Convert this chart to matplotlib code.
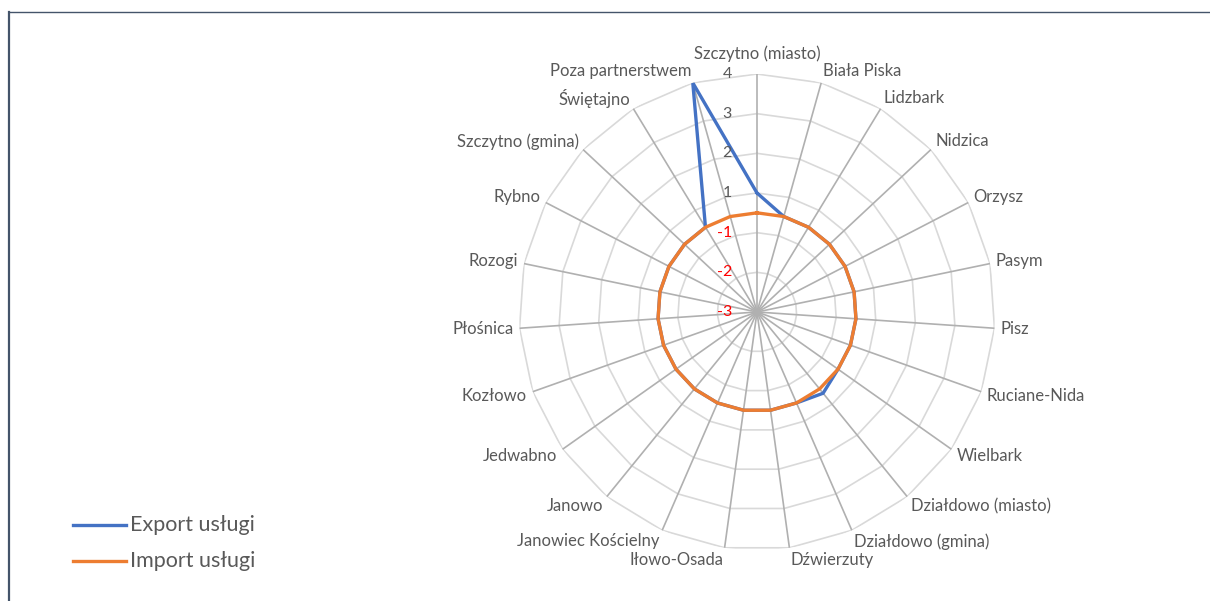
import numpy as np
import matplotlib
matplotlib.use("Agg")
import matplotlib.pyplot as plt
from matplotlib.lines import Line2D

plt.rcParams['font.family'] = ['Lato', 'DejaVu Sans']

# categories, clockwise from the top
categories = ["Szczytno (miasto)", "Biała Piska", "Lidzbark", "Nidzica", "Orzysz",
              "Pasym", "Pisz", "Ruciane-Nida", "Wielbark", "Działdowo (miasto)",
              "Działdowo (gmina)", "Dźwierzuty", "Iłowo-Osada", "Janowiec Kościelny",
              "Janowo", "Jedwabno", "Kozłowo", "Płośnica", "Rozogi", "Rybno",
              "Szczytno (gmina)", "Świętajno", "Poza partnerstwem"]

# radial tick labels, one per ring from the centre outwards
ring_labels = ["-3", "-2", "-1", "1", "2", "3", "4"]

# values in ring units (0 = centre ring, 6 = outer ring)
export_vals = [3.0, 2.5, 2.5, 2.5, 2.5, 2.5, 2.5, 2.5, 2.5, 2.64, 2.5, 2.5,
               2.5, 2.5, 2.5, 2.5, 2.5, 2.5, 2.5, 2.5, 2.5, 2.5, 6.0]
import_vals = [2.5] * 23

n = len(categories)
theta = np.arange(n) * 2 * np.pi / n
rmax = len(ring_labels) - 1

fig = plt.figure(figsize=(12.1, 6.01), dpi=100)
W, H = 1210, 601
cx, cy, R = 757, 312, 238
ax = fig.add_axes([(cx - R) / W, (H - cy - R) / H, 2 * R / W, 2 * R / H], projection='polar')
ax.set_theta_zero_location('N')
ax.set_theta_direction(-1)
ax.set_ylim(0, rmax)
ax.grid(False)
ax.spines['polar'].set_visible(False)
ax.set_xticks([])
ax.set_yticks([])
ax.patch.set_alpha(0)

# polygon rings
closed = np.append(theta, theta[0])
for r in range(1, rmax + 1):
    ax.plot(closed, [r] * (n + 1), color='#d9d9d9', lw=1.2, zorder=1)
# spokes
for t in theta:
    ax.plot([t, t], [0, rmax], color='#b0b0b0', lw=1.2, zorder=2)

ax.plot(closed, import_vals + import_vals[:1], color='#ED7D31', lw=2.4, zorder=4,
        solid_joinstyle='miter')
ax.plot(closed, export_vals + export_vals[:1], color='#4472C4', lw=2.4, zorder=3,
        solid_joinstyle='miter')

# ring labels along the top spoke
for i, lab in enumerate(ring_labels):
    col = '#FF0000' if lab.startswith('-') else '#595959'
    ax.annotate(lab, xy=(0, i), xytext=(-25, 0), textcoords='offset pixels',
                ha='right', va='center', fontsize=11.5, color=col, zorder=5)

# category labels
for t, lab in zip(theta, categories):
    s, c = np.sin(t), np.cos(t)
    if s > 0.01:
        ha = 'left'
    elif s < -0.01:
        ha = 'right'
    else:
        ha = 'center'
    va = 'center'
    if abs(s) < 0.01:
        va = 'bottom' if c > 0 else 'top'
    ax.annotate(lab, xy=(t, rmax), xytext=(6 * s, 12 * c), textcoords='offset pixels',
                ha=ha, va=va, fontsize=12, color='#595959', annotation_clip=False)

# legend
fig.add_artist(Line2D([73 / W, 126 / W], [1 - 525 / H] * 2, color='#4472C4', lw=2.4))
fig.add_artist(Line2D([73 / W, 126 / W], [1 - 561 / H] * 2, color='#ED7D31', lw=2.4))
fig.text(130 / W, 1 - 525 / H, "Export usługi", fontsize=15.5, color='#595959', va='center')
fig.text(130 / W, 1 - 561 / H, "Import usługi", fontsize=15.5, color='#595959', va='center')

# frame
fig.add_artist(Line2D([9 / W, 9 / W], [0, 1 - 12 / H], color='#44546A', lw=1.6))
fig.add_artist(Line2D([9 / W, 1], [1 - 12 / H] * 2, color='#44546A', lw=1.0))

fig.savefig("out.png", dpi=100)
